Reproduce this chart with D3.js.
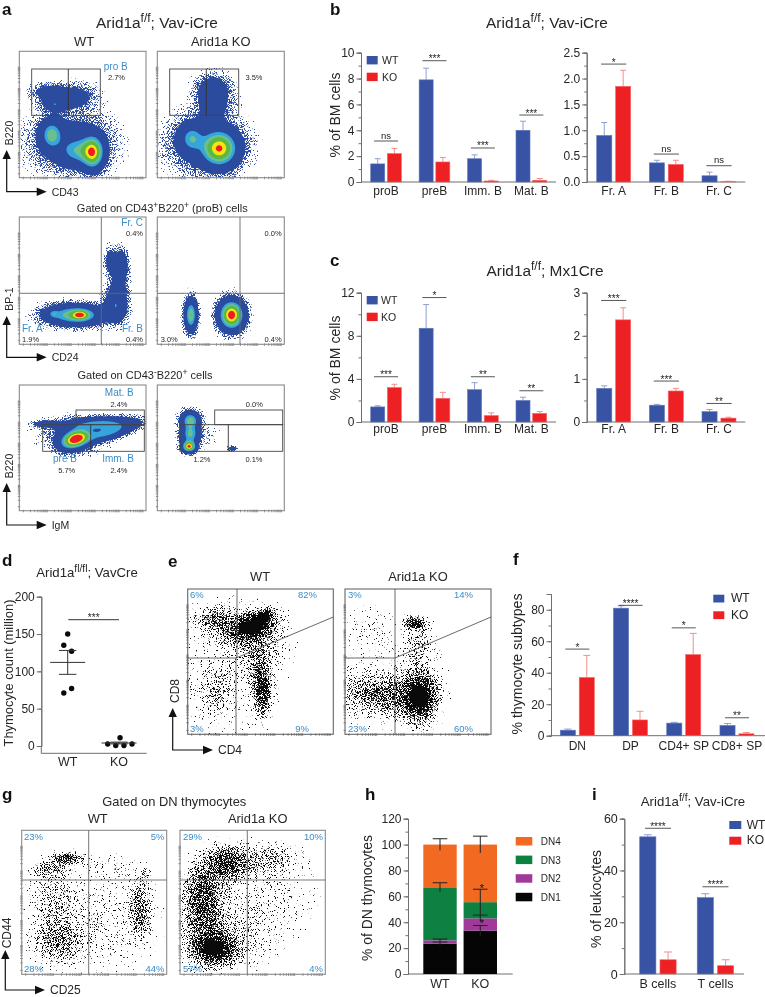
<!DOCTYPE html>
<html><head><meta charset="utf-8">
<script src="https://cdn.jsdelivr.net/npm/d3@7/dist/d3.min.js"></script>
<style>
html,body{margin:0;padding:0;background:#fff}
svg{display:block;font-family:"Liberation Sans",Arial,sans-serif;filter:blur(0.35px)}
</style></head><body>
<svg id="fig" width="765" height="997" viewBox="0 0 765 997"></svg>
<script>
// ---------- bar chart data ----------
const boneCats = ["proB","preB","Imm. B","Mat. B"];
const fracCats = ["Fr. A","Fr. B","Fr. C"];
const bBoneWT = [1.4,7.9,1.8,4.0],  bBoneWTErr = [1.8,8.8,2.1,4.7];
const bBoneKO = [2.2,1.55,0.08,0.13], bBoneKOErr = [2.6,1.9,0.13,0.27];
const bBoneSig = [3.17,9.38,2.63,5.18], bBoneSigText = ["ns","***","***","***"];
const bFracWT = [0.9,0.37,0.12],  bFracWTErr = [1.15,0.42,0.19];
const bFracKO = [1.85,0.34,0.01], bFracKOErr = [2.16,0.42,0.015];
const bFracSig = [2.28,0.54,0.315], bFracSigText = ["*","ns","ns"];
const cBoneWT = [1.4,8.7,3.0,2.0],  cBoneWTErr = [1.5,10.9,3.65,2.3];
const cBoneKO = [3.2,2.2,0.6,0.8],  cBoneKOErr = [3.5,2.75,0.85,0.97];
const cBoneSig = [4.2,11.55,4.2,2.9], cBoneSigText = ["***","*","**","**"];
const cFracWT = [0.78,0.39,0.24],  cFracWTErr = [0.84,0.41,0.29];
const cFracKO = [2.37,0.72,0.09],  cFracKOErr = [2.65,0.78,0.11];
const cFracSig = [2.82,0.95,0.43], cFracSigText = ["***","***","**"];
const thyCats = ["DN","DP","CD4+ SP","CD8+ SP"];
const fWT = [3.5,81,8,6.5],  fWTErr = [4.2,82.5,8.5,7.7];
const fKO = [37,10,51.5,1.2], fKOErr = [51,15.5,65,2];
const fSig = [55,82.8,68.5,11.4], fSigText = ["*","****","*","**"];
const leukCats = ["B cells","T cells"];
const iWT = [53,29.5], iWTErr = [53.8,31];
const iKO = [5.5,3.2], iKOErr = [8.5,5.5];
const iSig = [56.3,33.7], iSigText = ["****","****"];
// panel d
const dCats = ["WT","KO"];
const dWTValues = [150,135,127,77,71], dWTSpread = [0,-0.3,0.3,0.3,-0.3];
const dKOValues = [11,2.7,0.6,0.6,2.7], dKOSpread = [0.08,-0.87,-0.25,0.38,1];
const dMean = [112,4], dSem = [16,1.2];
// panel h
const hCats = ["WT","KO"];
const hStackNames = ["DN1","DN2","DN3","DN4"];
const hDN1 = [23.5,33.5], hDN2 = [2.5,9.5], hDN3 = [41,12.5], hDN4 = [33,44.5];
const hErrTop1 = [24.7,37.5], hErrTop2 = [27,45.5], hErrTop3 = [70.5,65.5], hErrTop4 = [104.5,106.5];
const hStackColors = ["#050505","#a0399a","#0e8042","#f26a22"];

// ---------- cytometry density blobs: [x%, y%, sdX, sdY, tiltDeg, weight] ----------
const aTopWT = [[24,68,8,3.5,0,.11],[44,64,10,6,0,.1],[28,60,8,5,0,.1],[28,58,2.4,1.6,0,.2],[25.5,34,5,6.5,0,.45],[41,28,18,13,0,.13],[58,20,5,7.5,0,.74],[47,21,9,6.5,0,.33]];
const aTopKO = [[44,70,8,7,0,.12],[44,58,8,8,0,.1],[27,31,5.5,6.5,0,.33],[49,23,8,8,0,.82],[38,27,17,13,0,.13]];
const aMidWT = [[44,23,13,4.5,0,.55],[48,23,4,2.2,0,.55],[27,24,2.5,2,0,.2],[72,65,2.5,6,0,.14],[80,62,3.2,7,0,.22],[78,44,4,7,0,.13],[76,30,5,7,0,.28]];
const aMidKO = [[26.5,23,2.8,7,0,.55],[58.5,23,5.5,6.5,0,1.0]];
const aLowWT = [[22,69,6,1.6,0,.18],[44.5,57,7,4,20,1.0],[64,69,15,3,3,.38],[70,62,12,3,15,.34],[45,60,12,7,0,.1],[40,62,22,8,0,.012]];
const aLowKO = [[26,72,4.2,4,0,.48],[26,61,4.2,5,0,.45],[25,51,3,2.6,0,.9],[38,60,7,8,0,.012],[59,49.5,2.2,1,0,.14],[70,65,12,10,0,.004]];
const eWT = [[44,74,9,5,15,.95],[52,81,4,2,35,.9],[20,78,8,5.5,0,.28],[51,30,3.4,9.5,0,.62],[47,49,4,8,0,.14],[20,28,7,11,0,.1],[28,50,22,26,0,.05],[50,62,10,10,0,.13]];
const eKO = [[48,76.5,4,2.3,0,.7],[50,60,5,9,0,.14],[51,26,6.5,9,0,.95],[14,29,11,8,0,.2],[33,25,9,8,0,.22],[17,74,8,8,0,.05],[30,40,25,22,0,.03]];
const gWT = [[32,80.5,6,2.3,0,.45],[20,73.6,7,3.2,0,.18],[81.6,44.7,4.5,11,0,.25],[84,68,3,5,0,.1],[25,22.7,9,9,0,.2],[22,52,9,15,0,.1],[50,35,26,20,0,.06],[58,75,14,5,0,.04]];
const gKO = [[32,77,9,7,0,.45],[16,58.6,8,11,0,.3],[23,18,8,6,0,.85],[16,40,8,14,0,.22],[60,80,11,6,0,.16],[60,52,20,18,0,.05],[30,25,16,14,0,.12]];

// ---------- helpers ----------
const svg = d3.select("#fig");
const INK="#262626", CYAN="#3a8cc8", BLUE="#3953a4", RED="#ed2024";
const defs = svg.append("defs");
function speck(id,color,gain,k2,k3,k4,seed){
  const f=defs.append("filter").attr("id",id).attr("filterUnits","userSpaceOnUse")
    .attr("x",0).attr("y",0).attr("width",765).attr("height",997).attr("color-interpolation-filters","sRGB");
  f.append("feTurbulence").attr("type","fractalNoise").attr("baseFrequency",1.15).attr("numOctaves",2).attr("seed",seed).attr("result","n");
  f.append("feColorMatrix").attr("in","n").attr("type","matrix").attr("values","0 0 0 0 0 0 0 0 0 0 0 0 0 0 0 1 0 0 0 0").attr("result","na");
  f.append("feComposite").attr("in","SourceAlpha").attr("in2","na").attr("operator","arithmetic")
    .attr("k1",0).attr("k2",k2).attr("k3",k3).attr("k4",k4).attr("result","m");
  f.append("feComponentTransfer").attr("in","m").attr("result","g").append("feFuncA").attr("type","linear").attr("slope",gain).attr("intercept",0);
  f.append("feComponentTransfer").attr("in","SourceAlpha").attr("result","mask").append("feFuncA").attr("type","linear").attr("slope",30).attr("intercept",0);
  f.append("feFlood").attr("flood-color",color).attr("result","c");
  f.append("feComposite").attr("in","c").attr("in2","g").attr("operator","in").attr("result","d");
  f.append("feComposite").attr("in","d").attr("in2","mask").attr("operator","in");
}
speck("dots","#0a0a0a",4,2.6,4,-3.05,4);
speck("halo","#2b4b9f",4,2.4,4,-3,9);

function txt(x,y,s,o={}){
  const t=svg.append("text").attr("x",x).attr("y",y).attr("font-size",o.size||12)
    .attr("fill",o.color||INK).attr("text-anchor",o.anchor||"middle");
  if(o.bold)t.attr("font-weight","bold");
  if(o.rot!==undefined)t.attr("transform",`rotate(${o.rot} ${x} ${y})`);
  const parts=Array.isArray(s)?s:[s];
  const sz=o.size||12;
  let up=false;
  parts.forEach(p=>{
    if(typeof p==="string"){t.append("tspan").text(p).attr("dy",up?sz*0.38:null);up=false;}
    else{t.append("tspan").text(p.sup).attr("font-size",sz*0.78).attr("dy",up?null:-sz*0.38);up=true;}
  });
  return t;
}
function line(x1,y1,x2,y2,c,w){svg.append("line").attr("x1",x1).attr("y1",y1).attr("x2",x2).attr("y2",y2).attr("stroke",c||"#555").attr("stroke-width",w||1);}
const letter=(x,y,s)=>txt(x,y,s,{size:17,bold:true,anchor:"start",color:"#111"});

function arrows(x,yBase,yTop,xEnd,yLabel,xLabel,ySize){
  const g=svg.append("g").attr("stroke","#111").attr("stroke-width",1.2).attr("fill","none");
  g.append("path").attr("d",`M${x},${yTop+6}V${yBase}H${xEnd-6}`);
  svg.append("path").attr("fill","#111").attr("d",`M${x},${yTop}l-4.2,9h8.4zM${xEnd},${yBase}l-10,-4.2v8.4z`);
  txt(x+6,yTop-17,yLabel,{size:ySize||11,rot:-90});
  txt(xEnd+5,yBase+4,xLabel,{size:ySize||11,anchor:"start"});
}
let clipId=0;
function flowFrame(x0,x1,y0,y1,draw,frameColor){
  const id="clip"+(clipId++);
  defs.append("clipPath").attr("id",id).append("rect").attr("x",x0).attr("y",y0).attr("width",x1-x0).attr("height",y1-y0);
  const g=svg.append("g").attr("clip-path",`url(#${id})`);
  draw(g);
  const logX=d3.scaleLog().domain([1,1e5]).range([x0+4,x1-3]);
  const logY=d3.scaleLog().domain([1,1e5]).range([y1-4,y0+16]);
  const tick=svg.append("g").attr("stroke","#444").attr("stroke-width",0.6);
  tick.selectAll("l").data(logX.ticks()).join("line").attr("x1",d=>logX(d)).attr("x2",d=>logX(d)).attr("y1",y1-1).attr("y2",y1+1.6);
  tick.selectAll("m").data(logY.ticks()).join("line").attr("y1",d=>logY(d)).attr("y2",d=>logY(d)).attr("x1",x0-1.5).attr("x2",x0+1);
  svg.append("rect").attr("x",x0).attr("y",y0).attr("width",x1-x0).attr("height",y1-y0)
    .attr("fill","none").attr("stroke",frameColor||"#8a8a8a").attr("stroke-width",1.1);
}
const GN=110;
function field(blobs){
  const v=new Float64Array(GN*GN);
  for(let j=0;j<GN;j++)for(let i=0;i<GN;i++){
    const px=(i+.5)/GN*100,py=(j+.5)/GN*100;let s=0;
    for(const [cx,cy,sx,sy,r,w] of blobs){
      const a=r*Math.PI/180,dx=px-cx,dy=py-cy;
      const u=(dx*Math.cos(a)+dy*Math.sin(a))/sx,t=(-dx*Math.sin(a)+dy*Math.cos(a))/sy;
      s+=w*Math.exp(-.5*(u*u+t*t));
    }
    v[j*GN+i]=s;
  }
  return v;
}
function pathFor(x0,x1,y0,y1){
  const sx=d3.scaleLinear([0,GN],[x0,x1]),sy=d3.scaleLinear([0,GN],[y1,y0]);
  return d3.geoPath(d3.geoTransform({point(x,y){this.stream.point(sx(x),sy(y));}}));
}
const contourGen=d3.contours().size([GN,GN]);
const HALO_LEVELS=[.004,.007,.011,.016,.022,.03,.04,.05];
const DOT_LEVELS=d3.range(2,21).map(k=>0.9*(k/20)*(k/20));
const PSEUDO=[[.055,"#2b4b9f"],[.3,"#35a5dc"],[.42,"#69bf8e"],[.54,"#58b947"],[.74,"#f4e511"],[.88,"#ee1c25"]];
function pseudo(x0,x1,y0,y1,blobs){
  flowFrame(x0,x1,y0,y1,g=>{
    const v=field(blobs),p=pathFor(x0,x1,y0,y1);
    const sp=g.append("g").attr("filter","url(#halo)");
    sp.selectAll("path").data(contourGen.thresholds(HALO_LEVELS)(v)).join("path").attr("d",p).attr("fill","#000").attr("fill-opacity",.1);
    PSEUDO.forEach(([t,c])=>{
      g.append("g").selectAll("path").data(contourGen.thresholds([t])(v)).join("path").attr("d",p).attr("fill",c);
    });
  });
}
function dotPlot(x0,x1,y0,y1,blobs,frame){
  flowFrame(x0,x1,y0,y1,g=>{
    const v=field(blobs),p=pathFor(x0,x1,y0,y1);
    const sp=g.append("g").attr("filter","url(#dots)");
    sp.selectAll("path").data(contourGen.thresholds(DOT_LEVELS)(v)).join("path").attr("d",p).attr("fill","#000").attr("fill-opacity",.065);
    g.append("g").selectAll("path").data(contourGen.thresholds([.72])(v)).join("path").attr("d",p).attr("fill","#0a0a0a");
  },frame);
}

function yAxis(x,yScale,major,minor,fmt,fs){
  const a=svg.append("g").attr("transform",`translate(${x},0)`);
  a.call(d3.axisLeft(yScale).tickValues(minor).tickSize(2.5).tickFormat(""));
  a.append("g").call(d3.axisLeft(yScale).tickValues(major).tickSize(4.5).tickPadding(2).tickFormat(fmt||d3.format("d")));
  a.selectAll("path,line").attr("stroke","#6f6f6f").attr("stroke-width",1);
  a.selectAll("text").attr("font-size",fs||12).attr("fill",INK).attr("font-family","inherit");
}
function catLabels(x,cats,y,fs){
  const s=svg.append("g");
  s.selectAll("text").data(cats).join("text").attr("x",d=>x(d)+x.bandwidth()/2).attr("y",y).attr("text-anchor","middle").attr("font-size",fs||12).attr("fill",INK).text(d=>d);
}
function errBars(g,xpos,vals,tops,yS,color,cap){
  vals.forEach((v,i)=>{
    const xc=xpos(i);
    g.append("line").attr("x1",xc).attr("x2",xc).attr("y1",yS(v)).attr("y2",yS(tops[i])).attr("stroke",color).attr("stroke-width",1);
    g.append("line").attr("x1",xc-cap).attr("x2",xc+cap).attr("y1",yS(tops[i])).attr("y2",yS(tops[i])).attr("stroke",color).attr("stroke-width",1);
  });
}
function grouped(o){
  const x=d3.scaleBand().domain(o.cats).range(o.xr).paddingInner(o.pad).paddingOuter(0);
  const inner=d3.scaleBand().domain([0,1]).range([0,x.bandwidth()]).paddingInner(o.gap||.16);
  const y=d3.scaleLinear().domain([0,o.max]).range([o.base,o.top]);
  yAxis(o.ax,y,o.major,o.minor,o.fmt,o.fs);
  line(o.ax,o.base,o.end,o.base,"#6f6f6f",1);
  const g=svg.append("g");
  [[o.wt,o.wtE,BLUE,"#8ea0d4",0],[o.ko,o.koE,RED,"#f58d8d",1]].forEach(([vals,errs,c,ec,k])=>{
    const xp=i=>x(o.cats[i])+inner(k);
    errBars(g,i=>xp(i)+inner.bandwidth()/2,vals,errs,y,ec,o.cap||3);
    g.selectAll("r"+k).data(vals).join("rect").attr("x",(d,i)=>xp(i)).attr("width",inner.bandwidth())
      .attr("y",d=>y(d)).attr("height",d=>y(0)-y(d)).attr("fill",c).attr("stroke",k?"#f5696b":"#6078ba").attr("stroke-width",.6);
  });
  o.sig.forEach((v,i)=>{
    const xc=x(o.cats[i])+x.bandwidth()/2;
    line(xc-o.sigW,y(v),xc+o.sigW,y(v),"#444",.9);
    const ns=o.sigT[i]==="ns";
    txt(xc,y(v)-(ns?2.5:-1.5),o.sigT[i],{size:ns?9.5:10,color:"#222"});
  });
  catLabels(x,o.cats,o.labelY,o.fs);
}
function legend(x,y1,y2,w,h,tx,fs){
  [["WT",BLUE,y1],["KO",RED,y2]].forEach(([n,c,y])=>{
    svg.append("rect").attr("x",x).attr("y",y).attr("width",w).attr("height",h).attr("fill",c);
    txt(tx,y+h-.5,n,{size:fs||10,anchor:"start"});
  });
}
const f1=d3.format(".1f");

// ---------- panel a ----------
letter(2,15,"a");
txt(157,28,["Arid1a",{sup:"f/f"},"; Vav-iCre"],{size:15.4});
txt(84,46,"WT",{size:12.9}); txt(220.7,46,"Arid1a KO",{size:12.9});
pseudo(19.3,146,51.3,177.7,aTopWT); pseudo(157.3,284.3,51.3,177.7,aTopKO);
function rect(x0,y0,x1,y1){svg.append("rect").attr("x",x0).attr("y",y0).attr("width",x1-x0).attr("height",y1-y0).attr("fill","none").attr("stroke","#444").attr("stroke-width",.9);}
rect(31.7,69,100.3,115.3); line(68.3,69,68.3,115.3,"#333",.9);
rect(169.7,69,238.7,115.3); line(206.3,69,206.3,115.3,"#333",.9);
txt(115.7,70,"pro B",{size:10,color:CYAN}); txt(116.5,80,"2.7%",{size:7.5}); txt(254,80,"3.5%",{size:7.5});
arrows(6.7,191.7,150,46.7,"B220","CD43",10.5);
txt(162.3,211.7,["Gated on CD43",{sup:"+"},"B220",{sup:"+"}," (proB) cells"],{size:11});
pseudo(19.3,146,217,344.3,aMidWT); pseudo(157.3,284.3,217,344.3,aMidKO);
line(19.3,293.3,146,293.3,"#666",.9); line(101.3,217,101.3,344.3,"#666",.9);
line(157.3,293.3,284.3,293.3,"#666",.9); line(240,217,240,344.3,"#666",.9);
txt(143,226,"Fr. C",{size:10,color:CYAN,anchor:"end"});
txt(143,236,"0.4%",{size:7.5,anchor:"end"}); txt(281.7,236,"0.0%",{size:7.5,anchor:"end"});
txt(22,332,"Fr. A",{size:10,color:CYAN,anchor:"start"}); txt(143,332,"Fr. B",{size:10,color:CYAN,anchor:"end"});
txt(22,342,"1.9%",{size:7.5,anchor:"start"}); txt(143,342,"0.4%",{size:7.5,anchor:"end"});
txt(160.7,342,"3.0%",{size:7.5,anchor:"start"}); txt(281.7,342,"0.4%",{size:7.5,anchor:"end"});
arrows(6.7,357.3,316,46.7,"BP-1","CD24",10.5);
txt(145,379,["Gated on CD43",{sup:"-"},"B220",{sup:"+"}," cells"],{size:11});
pseudo(19.3,146,385,510.7,aLowWT); pseudo(157.3,284.3,385,510.7,aLowKO);
rect(76,410,144.3,424.7); rect(42.7,424.7,144.3,451.3); line(90.7,424.7,90.7,451.3,"#333",.9);
rect(214.7,410,282.7,424.7); rect(180,424.7,282.7,451.3); line(228.3,424.7,228.3,451.3,"#333",.9);
txt(119.3,396,"Mat. B",{size:10,color:CYAN}); txt(119,407,"2.4%",{size:7.5}); txt(254.3,407,"0.0%",{size:7.5});
txt(65,462,"pre B",{size:10,color:CYAN}); txt(118,462,"Imm. B",{size:10,color:CYAN});
txt(66.7,472.5,"5.7%",{size:7.5}); txt(119,472.5,"2.4%",{size:7.5});
txt(202,461.5,"1.2%",{size:7.5}); txt(254,461.5,"0.1%",{size:7.5});
arrows(6.7,525,483,46.7,"B220","IgM",10.5);

// ---------- panel b ----------
letter(330,15,"b");
txt(547,28,["Arid1a",{sup:"f/f"},"; Vav-iCre"],{size:15.4});
txt(340,115,"% of BM cells",{size:14,rot:-90});
grouped({cats:boneCats,xr:[370.7,546.7],pad:.366,max:10,base:182,top:52.7,ax:361,end:556,major:d3.range(0,11,2),minor:d3.range(0,11),wt:bBoneWT,wtE:bBoneWTErr,ko:bBoneKO,koE:bBoneKOErr,sig:bBoneSig,sigT:bBoneSigText,sigW:12,labelY:195});
legend(366.7,56,72.7,11,8.4,382,10.5);
grouped({cats:fracCats,xr:[596.7,736],pad:.354,gap:.2,max:2.5,base:182,top:52.7,ax:586.7,end:745.3,major:[0,.5,1,1.5,2,2.5],minor:d3.range(0,2.51,.25),fmt:f1,wt:bFracWT,wtE:bFracWTErr,ko:bFracKO,koE:bFracKOErr,sig:bFracSig,sigT:bFracSigText,sigW:12.6,labelY:195});

// ---------- panel c ----------
letter(330,266,"c");
txt(545,276,["Arid1a",{sup:"f/f"},"; Mx1Cre"],{size:15.4});
txt(340,358,"% of BM cells",{size:14,rot:-90});
grouped({cats:boneCats,xr:[370.7,546.7],pad:.366,max:12,base:422,top:292.7,ax:361,end:556,major:[0,4,8,12],minor:d3.range(0,13,2),wt:cBoneWT,wtE:cBoneWTErr,ko:cBoneKO,koE:cBoneKOErr,sig:cBoneSig,sigT:cBoneSigText,sigW:12,labelY:433});
legend(366.7,296,312.7,11,8.4,381,10.5);
grouped({cats:fracCats,xr:[596.7,736],pad:.354,gap:.2,max:3,base:422,top:292.7,ax:586.7,end:745.3,major:[0,1,2,3],minor:d3.range(0,3.1,.5),wt:cFracWT,wtE:cFracWTErr,ko:cFracKO,koE:cFracKOErr,sig:cFracSig,sigT:cFracSigText,sigW:12.6,labelY:433});

// ---------- panel d ----------
letter(2,566,"d");
txt(87,577,["Arid1a",{sup:"fl/fl"},"; VavCre"],{size:13.2});
txt(12.5,673,"Thymocyte count (million)",{size:12.9,rot:-90});
const dX=d3.scalePoint().domain(dCats).range([67.7,119]);
const dJit=d3.scaleLinear().domain([-1,1]).range([-13,13]);
const dY=d3.scaleLinear().domain([0,200]).range([746,596.7]);
yAxis(41.3,dY,[0,50,100,150,200],[0,50,100,150,200],null,12);
line(41.3,746,41.3,753.3,"#6f6f6f",1); line(41.3,753.3,146.7,753.3,"#6f6f6f",1);
[[dWTValues,dWTSpread,"WT"],[dKOValues,dKOSpread,"KO"]].forEach(([vals,sp,c])=>{
  svg.append("g").selectAll("circle").data(vals).join("circle").attr("cx",(d,i)=>dX(c)+dJit(sp[i])).attr("cy",d=>dY(d)).attr("r",2.7).attr("fill","#0a0a0a");
});
dCats.forEach((c,i)=>{
  const xc=dX(c),m=dMean[i],s=dSem[i];
  line(xc-17.5,dY(m),xc+17.5,dY(m),"#333",1);
  line(xc,dY(m-s),xc,dY(m+s),"#333",1);
  line(xc-8.7,dY(m+s),xc+8.7,dY(m+s),"#333",1);
  line(xc-8.7,dY(m-s),xc+8.7,dY(m-s),"#333",1);
  txt(xc,766,c,{size:12.5});
});
line(68.3,619.7,119,619.7,"#333",1); txt(93.7,621,"***",{size:10});

// ---------- panel e ----------
letter(168,567,"e");
txt(260,581,"WT",{size:12.9}); txt(418,581,"Arid1a KO",{size:12.9});
dotPlot(187.7,333.3,589,734.3,eWT,"#666"); dotPlot(345,491,589,734.3,eKO,"#666");
line(237,589,237,658,"#444",.8); line(236,658,236,734.3,"#444",.8); line(187.7,658,236,658,"#444",.8); line(236,658,333.3,617,"#444",.8);
line(395,589,395,734.3,"#444",.8); line(345,658,395,658,"#444",.8); line(395,658,491,617,"#444",.8);
[[190,598,"6%","start"],[317,598,"82%","end"],[190,732,"3%","start"],[309,732,"9%","end"],[348,598,"3%","start"],[473,598,"14%","end"],[348,732,"23%","start"],[473,732,"60%","end"]]
 .forEach(([x,y,s,a])=>txt(x,y,s,{size:9.5,color:CYAN,anchor:a}));
arrows(172.7,750,708,213,"CD8","CD4",12);

// ---------- panel f ----------
letter(513,565,"f");
txt(522,664,"% thymocyte subtypes",{size:14.1,rot:-90});
grouped({cats:thyCats,xr:[560.3,754],pad:.36,gap:.2,max:90,base:735.7,top:594,ax:551,end:765,major:[0,20,40,60,80],minor:d3.range(0,91,10),wt:fWT,wtE:fWTErr,ko:fKO,koE:fKOErr,sig:fSig,sigT:fSigText,sigW:12,labelY:750,fs:12,cap:3.5});
legend(713.3,594.7,611.3,11,7.8,731,12);

// ---------- panel g ----------
letter(2,800,"g");
txt(174.3,806,"Gated on DN thymocytes",{size:12.9});
txt(97.7,822.7,"WT",{size:12.9}); txt(257.7,822.7,"Arid1a KO",{size:12.9});
dotPlot(21.7,166.7,830.3,974.3,gWT); dotPlot(180,325.3,830.3,974.3,gKO);
line(88.7,830.3,88.7,974.3,"#666",.9); line(21.7,880,166.7,880,"#555",.8);
line(247.3,830.3,247.3,974.3,"#666",.9); line(180,880,325.3,880,"#555",.8);
[[24,840,"23%","start"],[164.5,840,"5%","end"],[24,972,"28%","start"],[164.5,972,"44%","end"],[183,840,"29%","start"],[323,840,"10%","end"],[183,972,"57%","start"],[323,972,"4%","end"]]
 .forEach(([x,y,s,a])=>txt(x,y,s,{size:9.5,color:CYAN,anchor:a}));
arrows(5.3,990,950,45,"CD44","CD25",12);

// ---------- panel h ----------
letter(365,800,"h");
txt(372,898,"% of DN thymocytes",{size:13.9,rot:-90});
const hX=d3.scaleBand().domain(hCats).range([423.3,497]).paddingInner(.17).paddingOuter(0);
const hY=d3.scaleLinear().domain([0,120]).range([974,818.7]);
yAxis(408,hY,d3.range(0,121,20),d3.range(0,121,10));
line(408,974,512.7,974,"#6f6f6f",1);
const hStack=d3.stack().keys([0,1,2,3]).value((d,k)=>d[k])(hCats.map((c,i)=>[hDN1[i],hDN2[i],hDN3[i],hDN4[i]]));
const hTops=[hErrTop1,hErrTop2,hErrTop3,hErrTop4];
hStack.forEach((ser,k)=>{
  svg.append("g").selectAll("rect").data(ser).join("rect").attr("x",(d,i)=>hX(hCats[i])).attr("width",hX.bandwidth())
    .attr("y",d=>hY(d[1])).attr("height",d=>hY(d[0])-hY(d[1])).attr("fill",hStackColors[k]);
});
hStack.forEach((ser,k)=>{
  ser.forEach((d,i)=>{
    const xc=hX(hCats[i])+hX.bandwidth()/2,yt=hY(hTops[k][i]),half=(hTops[k][i]-d[1]);
    line(xc,hY(d[1]-half),xc,yt,"#222",1);
    line(xc-7.3,yt,xc+7.3,yt,"#222",1);
  });
});
txt(482,892,"*",{size:11,color:"#111"}); txt(482,927,"*",{size:11,color:"#111"});
hStackNames.slice().reverse().forEach((n,i)=>{
  const c=hStackColors[3-i],yy=837+i*18.6;
  svg.append("rect").attr("x",515.7).attr("y",yy).attr("width",16.6).attr("height",8.5).attr("fill",c);
  txt(540.7,yy+8,n,{size:10,anchor:"start"});
});
hCats.forEach(c=>txt(hX(c)+hX.bandwidth()/2,988,c,{size:12.5}));

// ---------- panel i ----------
letter(592,800,"i");
txt(693,806,["Arid1a",{sup:"f/f"},"; Vav-iCre"],{size:13.2});
txt(601,899,"% of leukocytes",{size:14,rot:-90});
grouped({cats:leukCats,xr:[639.7,733.7],pad:.366,gap:.2,max:60,base:974,top:818.7,ax:624.3,end:744,major:[0,20,40,60],minor:d3.range(0,61,10),wt:iWT,wtE:iWTErr,ko:iKO,koE:iKOErr,sig:iSig,sigT:iSigText,sigW:13,labelY:988,fs:12.5,cap:4});
legend(729.3,821,836.7,12,8,746.7,12);
</script>
</body></html>
